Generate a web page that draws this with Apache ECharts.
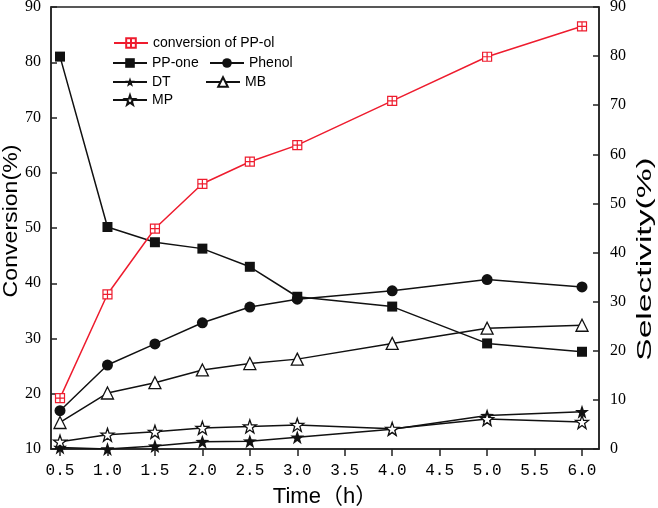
<!DOCTYPE html>
<html>
<head>
<meta charset="utf-8">
<script src="https://cdn.jsdelivr.net/npm/echarts@6/dist/echarts.min.js"></script>
<style>
html,body{margin:0;padding:0;background:#fff;}
#chart{width:658px;height:508px;}
</style>
</head>
<body>
<div id="chart"></div>
<script>
// ---- data ----
var timeH = [0.5, 1.0, 1.5, 2.0, 2.5, 3.0, 4.0, 5.0, 6.0];
var conversionPPol = [19.2, 38.0, 49.9, 58.0, 62.0, 65.0, 73.0, 81.0, 86.5];
var ppOne  = [79.9, 45.2, 42.1, 40.8, 37.1, 31.0, 29.0, 21.5, 19.8];
var phenol = [7.8, 17.1, 21.4, 25.7, 28.9, 30.5, 32.2, 34.5, 33.0];
var dt     = [0.3, 0.0, 0.6, 1.5, 1.6, 2.4, 4.0, 6.8, 7.6];
var mb     = [5.4, 11.4, 13.5, 16.1, 17.4, 18.3, 21.5, 24.6, 25.2];
var mp     = [1.5, 2.9, 3.5, 4.3, 4.6, 4.9, 4.1, 6.1, 5.5];
var xTicks = [0.5, 1.0, 1.5, 2.0, 2.5, 3.0, 3.5, 4.0, 4.5, 5.0, 5.5, 6.0];
var xTickLabels = ['0.5','1.0','1.5','2.0','2.5','3.0','3.5','4.0','4.5','5.0','5.5','6.0'];
var seriesNames = ['conversion of PP-ol', 'PP-one', 'Phenol', 'DT', 'MB', 'MP'];
var xTitle = 'Time（h）';
var yLeftTitle = 'Conversion(%)';
var yRightTitle = 'Selectivity(%)';

function pairs(vals) { return timeH.map(function (t, i) { return [t, vals[i]]; }); }

var STAR = 'path://M0,-10L2.35,-3.24L9.51,-3.09L3.8,1.24L5.88,8.09L0,4L-5.88,8.09L-3.8,1.24L-9.51,-3.09L-2.35,-3.24Z';
var BOXCROSS = 'path://M0,0H10V10H0Z M5,0V10 M0,5H10';
var RED = '#ee1c2e';
var BLK = '#111';

function blackSeries(name, vals, symbol, size, hollow) {
  return {
    name: name, type: 'line', yAxisIndex: 1, data: pairs(vals),
    symbol: symbol, symbolSize: size,
    lineStyle: { color: BLK, width: 1.5 },
    itemStyle: hollow ? { color: '#fff', borderColor: BLK, borderWidth: 1.3 } : { color: BLK, borderWidth: 0 }
  };
}

function legendAt(name, left, cy) {
  return {
    data: [name], left: left, top: cy - 6, padding: 0,
    itemWidth: 34, itemHeight: 12, selectedMode: false,
    textStyle: { fontFamily: 'Liberation Sans', fontSize: 14, color: '#000' }
  };
}

var chart = echarts.init(document.getElementById('chart'));
chart.setOption({
  animation: false,
  backgroundColor: '#fff',
  grid: { left: 51, right: 59, top: 7, bottom: 59, show: true, borderColor: '#222', borderWidth: 1.5, outerBoundsMode: 'none', containLabel: false },
  legend: [
    legendAt(seriesNames[0], 113, 42),
    legendAt(seriesNames[1], 112, 62),
    legendAt(seriesNames[2], 209, 62),
    legendAt(seriesNames[3], 112, 81),
    legendAt(seriesNames[4], 205, 81),
    legendAt(seriesNames[5], 112, 99)
  ],
  xAxis: {
    type: 'value', min: 0.405, max: 6.179,
    name: xTitle, nameLocation: 'middle', nameGap: 37,
    nameTextStyle: { fontFamily: 'Liberation Sans, Noto Sans CJK SC', fontSize: 22, color: '#000' },
    axisLine: { show: true, lineStyle: { color: '#222', width: 1.5 } },
    axisTick: { show: true, customValues: xTicks, length: 7, inside: false, lineStyle: { color: '#222', width: 1.5 } },
    axisLabel: {
      customValues: xTicks, margin: 14,
      fontFamily: 'Liberation Mono', fontSize: 16, color: '#000',
      formatter: function (v) {
        var i = xTicks.findIndex(function (t) { return Math.abs(t - v) < 1e-6; });
        return i >= 0 ? xTickLabels[i] : '';
      }
    },
    splitLine: { show: false }
  },
  yAxis: [
    {
      type: 'value', min: 10, max: 90, interval: 10, position: 'left',
      axisLine: { show: true, lineStyle: { color: '#222', width: 1.5 } },
      axisTick: { show: true, inside: true, length: 6, lineStyle: { color: '#222', width: 1.5 } },
      axisLabel: { margin: 10, fontFamily: 'Liberation Serif', fontSize: 16, color: '#000' },
      splitLine: { show: false }
    },
    {
      type: 'value', min: 0, max: 90, interval: 10, position: 'right',
      axisLine: { show: true, lineStyle: { color: '#222', width: 1.5 } },
      axisTick: { show: true, inside: true, length: 6, lineStyle: { color: '#222', width: 1.5 } },
      axisLabel: { margin: 11, fontFamily: 'Liberation Serif', fontSize: 16, color: '#000' },
      splitLine: { show: false }
    }
  ],
  graphic: [
    {
      type: 'text', x: 11, y: 221, rotation: Math.PI / 2, scaleX: 1.1,
      style: { text: yLeftTitle, fontFamily: 'Liberation Sans', fontSize: 21, fill: '#000', align: 'center', verticalAlign: 'middle' }
    },
    {
      type: 'text', x: 645, y: 259, rotation: Math.PI / 2, scaleX: 1.6,
      style: { text: yRightTitle, fontFamily: 'Liberation Sans', fontSize: 21, fill: '#000', align: 'center', verticalAlign: 'middle' }
    }
  ],
  series: [
    blackSeries(seriesNames[1], ppOne, 'rect', 10, false),
    blackSeries(seriesNames[2], phenol, 'circle', 11, false),
    blackSeries(seriesNames[3], dt, STAR, 14, false),
    blackSeries(seriesNames[4], mb, 'triangle', 12, true),
    blackSeries(seriesNames[5], mp, STAR, 13, true),
    {
      name: seriesNames[0], type: 'line', yAxisIndex: 0, data: pairs(conversionPPol),
      symbol: BOXCROSS, symbolSize: 9,
      lineStyle: { color: RED, width: 1.5 },
      itemStyle: { color: '#fff', borderColor: RED, borderWidth: 1.2 },
      z: 5
    }
  ]
});
</script>
</body>
</html>
